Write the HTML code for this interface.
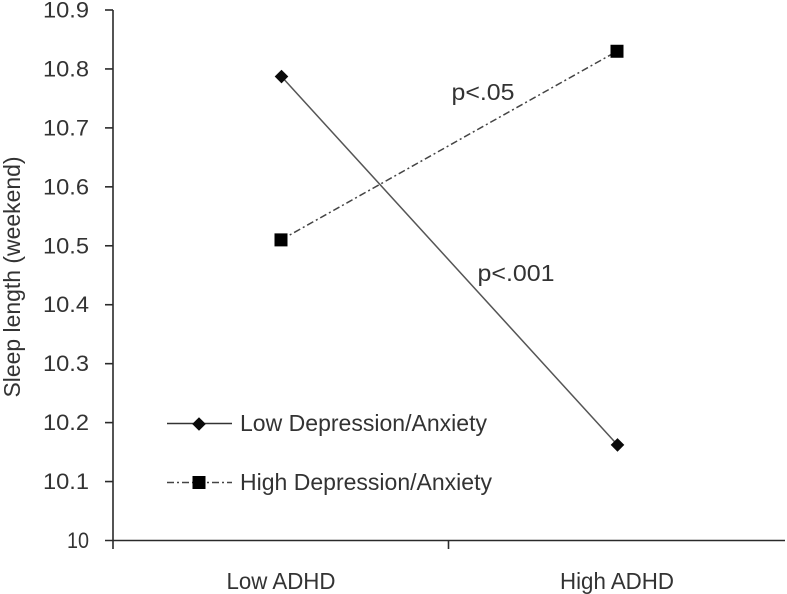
<!DOCTYPE html>
<html lang="en">
<head>
<meta charset="utf-8">
<title>Sleep length by ADHD and Depression/Anxiety</title>
<style>
html,body{margin:0;padding:0;background:#fff;}
svg{display:block;filter:blur(0.35px);}
text{font-family:"Liberation Sans",sans-serif;fill:#333;}
</style>
</head>
<body>
<svg id="chart" width="787" height="594" viewBox="0 0 787 594" xmlns="http://www.w3.org/2000/svg"></svg>
<script>
const categories = ['Low ADHD', 'High ADHD'];
const seriesNames = ['Low Depression/Anxiety', 'High Depression/Anxiety'];
const lowDepressionValues = [10.788, 10.163];
const highDepressionValues = [10.51, 10.83];
const yTickValues = [10, 10.1, 10.2, 10.3, 10.4, 10.5, 10.6, 10.7, 10.8, 10.9];
const yTickLabels = ['10', '10.1', '10.2', '10.3', '10.4', '10.5', '10.6', '10.7', '10.8', '10.9'];

const NS = 'http://www.w3.org/2000/svg';
const svg = document.getElementById('chart');
const plotLeft = 113, plotRight = 785, plotTop = 10, plotBottom = 540.5;
const yMin = 10, yMax = 10.9;
function yScale(v) { return plotBottom - (v - yMin) / (yMax - yMin) * (plotBottom - plotTop); }
function xScale(i) { return plotLeft + (i + 0.5) * (plotRight - plotLeft) / categories.length; }
function make(tag, attrs) {
  const el = document.createElementNS(NS, tag);
  for (const k in attrs) el.setAttribute(k, attrs[k]);
  svg.appendChild(el);
  return el;
}
function label(str, attrs) {
  const el = make('text', Object.assign({ 'font-size': 23, lengthAdjust: 'spacingAndGlyphs' }, attrs));
  el.textContent = str;
  return el;
}
function diamond(cx, cy, r) {
  return make('polygon', { points: [[cx, cy - r], [cx + r, cy], [cx, cy + r], [cx - r, cy]].map(p => p.join(',')).join(' '), fill: '#0a0a0a' });
}
function square(cx, cy, s) {
  return make('rect', { x: cx - s / 2, y: cy - s / 2, width: s, height: s, fill: '#000' });
}
const axisColor = '#2a2a2a';

// y axis
const yAxis = make('line', { x1: plotLeft, y1: plotTop, x2: plotLeft, y2: 549, stroke: axisColor, 'stroke-width': 1.6 });


// x axis
const xAxis = make('line', { x1: 105, y1: plotBottom, x2: plotRight, y2: plotBottom, stroke: axisColor, 'stroke-width': 1.6 });



yTickValues.forEach(function (v, i) {
  const y = yScale(v);
  if (i > 0) {
    const t = make('line', { x1: 105, y1: y, x2: plotLeft, y2: y, stroke: axisColor, 'stroke-width': 1.6 });
    
    
  }
  const s = yTickLabels[i];
  const l = label(s, { x: 89, y: y + 7.5, 'font-size': 22, 'text-anchor': 'end', textLength: s.length === 2 ? 22 : 46 });
  
  
});

// category boundary tick
const midTick = make('line', { x1: (plotLeft + plotRight) / 2 - 0.5, y1: plotBottom, x2: (plotLeft + plotRight) / 2 - 0.5, y2: 549, stroke: axisColor, 'stroke-width': 1.6 });



categories.forEach(function (c, i) {
  const l = label(c, { x: xScale(i), y: 589, 'text-anchor': 'middle', textLength: i === 0 ? 109 : 114 });
  
  
});

const yTitle = label('Sleep length (weekend)', { x: 0, y: 0, 'text-anchor': 'middle', textLength: 241, transform: 'translate(20,277) rotate(-90)' });



// series: low depression / anxiety
const lowPts = lowDepressionValues.map(function (v, i) { return [xScale(i), yScale(v)]; });
const lowLine = make('polyline', { points: lowPts.map(p => p.join(',')).join(' '), fill: 'none', stroke: '#555', 'stroke-width': 1.5 });


lowPts.forEach(function (p) {
  const m = diamond(p[0] + 0.5, p[1] + 0.5, 6.8);
  
  
});

// series: high depression / anxiety
const highPts = highDepressionValues.map(function (v, i) { return [xScale(i), yScale(v)]; });
const highLine = make('polyline', { points: highPts.map(p => p.join(',')).join(' '), fill: 'none', stroke: '#444', 'stroke-width': 1.5, 'stroke-dasharray': '7 3 2 3' });


highPts.forEach(function (p) {
  const m = square(p[0], p[1], 13);
  
  
});

// annotations
const p05 = label('p<.05', { x: 451.5, y: 100, textLength: 63 });


const p001 = label('p<.001', { x: 477.5, y: 281, textLength: 77 });



// legend
const leg1 = make('line', { x1: 167, y1: 423.5, x2: 232, y2: 423.5, stroke: '#333', 'stroke-width': 1.5 });


const legM1 = diamond(199, 424, 6.8);


const legT1 = label(seriesNames[0], { x: 240, y: 431, textLength: 247 });



const leg2 = make('line', { x1: 167, y1: 482.5, x2: 232, y2: 482.5, stroke: '#444', 'stroke-width': 1.4, 'stroke-dasharray': '7 3 2 3' });


const legM2 = square(199, 482.5, 13);


const legT2 = label(seriesNames[1], { x: 240, y: 490, textLength: 252 });


</script>
</body>
</html>
